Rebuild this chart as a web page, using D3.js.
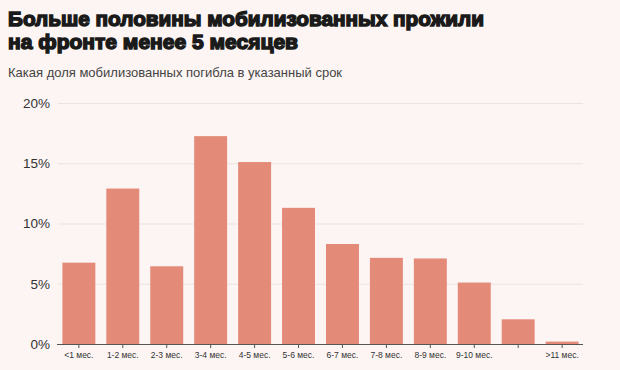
<!DOCTYPE html>
<html>
<head>
<meta charset="utf-8">
<script src="https://cdn.jsdelivr.net/npm/d3@7"></script>
<style>
  body { margin: 0; background: #fdf5f3; }
  svg { display: block; }
</style>
</head>
<body>
<div id="chart"></div>
<script>
// data
var categories = ["<1 мес.", "1-2 мес.", "2-3 мес.", "3-4 мес.", "4-5 мес.", "5-6 мес.",
                  "6-7 мес.", "7-8 мес.", "8-9 мес.", "9-10 мес.", "10-11 мес.", ">11 мес."];
var tickLabels = ["<1 мес.", "1-2 мес.", "2-3 мес.", "3-4 мес.", "4-5 мес.", "5-6 мес.",
                  "6-7 мес.", "7-8 мес.", "8-9 мес.", "9-10 мес.", "", ">11 мес."];
var shares = [6.75, 12.9, 6.45, 17.25, 15.1, 11.3, 8.3, 7.15, 7.1, 5.1, 2.05, 0.2];
var yTicks = [0, 5, 10, 15, 20];
var titleLines = ["Больше половины мобилизованных прожили", "на фронте менее 5 месяцев"];
var titleWidths = [476, 290];

var width = 620, height = 370;
var margin = {left: 58, right: 37, top: 103, bottom: 26};

var svg = d3.select("#chart")
    .append("svg")
    .attr("width", width)
    .attr("height", height)

svg.append("rect")
    .attr("width", width)
    .attr("height", height)
    .style("fill", "#fdf5f3")

// titles, one text per line
svg.selectAll(".title")
    .data(titleLines)
    .enter()
    .append("text")
    .attr("class", "title")
    .attr("x", 8)
    .attr("y", function(d, i){ return 26 + i * 23; })
    .attr("textLength", function(d, i){ return titleWidths[i]; })
    .attr("lengthAdjust", "spacingAndGlyphs")
    .style("font-family", "'Liberation Sans', Arial, sans-serif")
    .style("font-weight", "bold")
    .style("font-size", "21px")
    .style("fill", "#1a1a1a")
    .style("stroke", "#1a1a1a")
    .style("stroke-width", "1.5px")
    .text(function(d){ return d; })

svg.append("text")
    .attr("x", 8)
    .attr("y", 77)
    .style("font-family", "'Liberation Sans', Arial, sans-serif")
    .style("font-size", "13px")
    .style("fill", "#444")
    .text("Какая доля мобилизованных погибла в указанный срок")

var x = d3.scaleBand()
    .domain(categories)
    .range([margin.left, width - margin.right])
    .paddingInner(0.25)
    .paddingOuter(0.1);

var y = d3.scaleLinear()
    .domain([0, 20])
    .range([height - margin.bottom, margin.top]);

// gridlines + y labels
var yAxis = svg.append("g")
    .attr("transform", "translate(" + margin.left + ",0)")
    .call(d3.axisLeft(y)
        .tickValues(yTicks)
        .tickSize(-(width - margin.left - margin.right))
        .tickPadding(8)
        .tickFormat(function(d){ return d + "%"; }));
yAxis.select(".domain").remove();
yAxis.selectAll(".tick line")
    .style("stroke", "#ebe3e0")
    .style("stroke-width", "1px");
yAxis.selectAll(".tick text")
    .style("font-family", "'Liberation Sans', Arial, sans-serif")
    .style("font-size", "13.5px")
    .style("fill", "#333");

// bars
svg.selectAll(".bar")
    .data(shares)
    .enter()
    .append("rect")
    .attr("class", "bar")
    .attr("x", function(d, i){ return x(categories[i]); })
    .attr("width", x.bandwidth())
    .attr("y", function(d){ return y(d); })
    .attr("height", function(d){ return y(0) - y(d); })
    .style("fill", "#e48a78")

// x axis
var xAxis = svg.append("g")
    .attr("transform", "translate(0," + y(0) + ")")
    .call(d3.axisBottom(x)
        .tickSize(4)
        .tickPadding(4)
        .tickFormat(function(d, i){ return tickLabels[i]; }));
xAxis.select(".domain")
    .attr("d", "M" + (margin.left - 1) + ",0.5H" + (width - margin.right))
    .style("stroke", "#555")
    .style("stroke-width", "1.2px");
xAxis.selectAll(".tick line").style("stroke", "#555");
xAxis.selectAll(".tick text")
    .style("font-family", "'Liberation Sans', Arial, sans-serif")
    .style("font-size", "8.5px")
    .style("fill", "#333");
</script>
</body>
</html>
